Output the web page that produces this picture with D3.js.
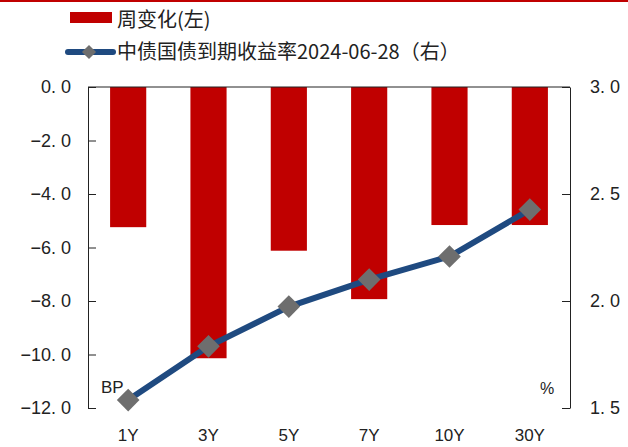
<!DOCTYPE html>
<html>
<head>
<meta charset="utf-8">
<script src="https://d3js.org/d3.v7.min.js"></script>
<style>
  body { margin: 0; background: #fff; }
  svg text { font-family: "Liberation Sans", Arial, sans-serif; fill: #222; }
  .cjk { font-family: "Noto Sans CJK SC", "Noto Sans", sans-serif; }
</style>
</head>
<body>
<script>
// chart data
var categories = ["1Y", "3Y", "5Y", "7Y", "10Y", "30Y"];
var weeklyChange = [-5.24, -10.14, -6.12, -7.93, -5.16, -5.16];   // BP, left axis
var yields = [1.537, 1.788, 1.974, 2.100, 2.208, 2.427];        // %, right axis
var leftTicks = [0, -2, -4, -6, -8, -10, -12];
var rightTicks = [3.0, 2.5, 2.0, 1.5];
var barLabel = "周变化(左)";
var lineLabel = "中债国债到期收益率2024-06-28（右）";

var width = 628, height = 447;
// plot edges (note: "top" is a reserved window global, so use plot* names)
var plotLeft = 88, plotRight = 570, plotTop = 87, plotBottom = 408;

var svg = d3.select("body").append("svg")
  .attr("width", width)
  .attr("height", height);

// thin red rule at the very top
svg.append("rect").attr("x", 0).attr("y", 0).attr("width", width).attr("height", 2).attr("fill", "#C00000");

var x = d3.scaleBand().domain(categories).range([plotLeft, plotRight]).paddingInner(0.55).paddingOuter(0.275);
var yL = d3.scaleLinear().domain([-12, 0]).range([plotBottom, plotTop]);
var yR = d3.scaleLinear().domain([1.5, 3.0]).range([plotBottom, plotTop]);

function fmt(v) { return d3.format(".1f")(v).replace(".", ". ").replace("-", "−"); }

// bars
svg.selectAll("rect.bar")
  .data(weeklyChange)
  .enter().append("rect")
  .attr("class", "bar")
  .attr("x", function(d, i) { return x(categories[i]); })
  .attr("y", yL(0))
  .attr("width", x.bandwidth())
  .attr("height", function(d) { return yL(d) - yL(0); })
  .attr("fill", "#C00000");

// left axis
var axL = svg.append("g").attr("transform", "translate(" + plotLeft + ",0)")
  .call(d3.axisLeft(yL).tickValues(leftTicks).tickSize(-8).tickSizeOuter(0).tickFormat(fmt));
axL.select(".domain").attr("stroke", "#222");
axL.selectAll(".tick line").attr("stroke", "#222");
axL.selectAll(".tick text").attr("x", -17).attr("font-size", 18).attr("fill", "#222");

// right axis
var axR = svg.append("g").attr("transform", "translate(" + plotRight + ",0)")
  .call(d3.axisRight(yR).tickValues(rightTicks).tickSize(-8).tickSizeOuter(0).tickFormat(function(d) { return d3.format(".1f")(d).replace(".", ". "); }));
axR.select(".domain").attr("stroke", "#222");
axR.selectAll(".tick line").attr("stroke", "#222");
axR.selectAll(".tick text").attr("x", 20).attr("font-size", 18).attr("fill", "#222");

// zero line (category axis) along the top
svg.append("line").attr("x1", plotLeft).attr("x2", plotRight).attr("y1", yL(0)).attr("y2", yL(0)).attr("stroke", "#222");

// category labels
svg.selectAll("text.cat")
  .data(categories)
  .enter().append("text")
  .attr("class", "cat")
  .attr("x", function(d) { return x(d) + x.bandwidth() / 2; })
  .attr("y", 441)
  .attr("text-anchor", "middle")
  .attr("font-size", 17)
  .text(function(d) { return d; });

// yield line
var line = d3.line()
  .x(function(d, i) { return x(categories[i]) + x.bandwidth() / 2; })
  .y(function(d) { return yR(d); });

svg.append("path")
  .datum(yields)
  .attr("d", line)
  .attr("fill", "none")
  .attr("stroke", "#1F4A80")
  .attr("stroke-width", 6)
  .attr("stroke-linejoin", "round");

svg.selectAll("rect.marker")
  .data(yields)
  .enter().append("rect")
  .attr("class", "marker")
  .attr("x", -8).attr("y", -8).attr("width", 16).attr("height", 16)
  .attr("transform", function(d, i) {
    return "translate(" + (x(categories[i]) + x.bandwidth() / 2) + "," + yR(d) + ") rotate(45)";
  })
  .attr("fill", "#6E6E6E");

// unit labels
svg.append("text").attr("x", 101).attr("y", 393).attr("font-size", 17).text("BP");
svg.append("text").attr("x", 540).attr("y", 394).attr("font-size", 16).text("%");

// legend
svg.append("rect").attr("x", 70).attr("y", 12).attr("width", 42).attr("height", 11).attr("fill", "#C00000");
svg.append("text").attr("class", "cjk").attr("x", 117).attr("y", 27).attr("font-size", 20).text(barLabel);

svg.append("line").attr("x1", 68).attr("x2", 113).attr("y1", 52).attr("y2", 52)
  .attr("stroke", "#1F4A80").attr("stroke-width", 6).attr("stroke-linecap", "round");
svg.append("rect").attr("x", -5).attr("y", -5).attr("width", 10).attr("height", 10)
  .attr("transform", "translate(89,52) rotate(45)").attr("fill", "#6E6E6E");
svg.append("text").attr("class", "cjk").attr("x", 117).attr("y", 59).attr("font-size", 20).text(lineLabel);
</script>
</body>
</html>
